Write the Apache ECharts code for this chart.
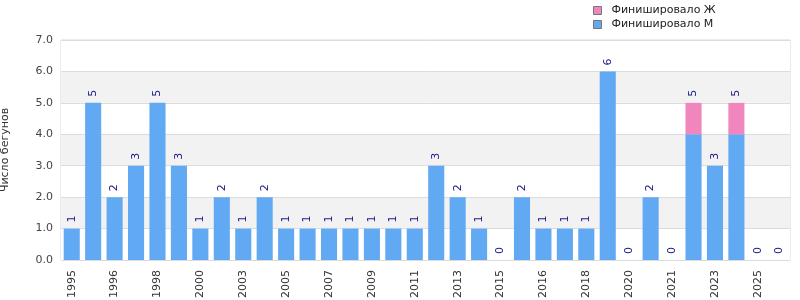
<!DOCTYPE html>
<html><head><meta charset="utf-8">
<script src="https://cdn.jsdelivr.net/npm/echarts@6/dist/echarts.min.js"></script>
<style>html,body{margin:0;padding:0;background:#fff}#c{width:800px;height:300px}</style>
</head><body><div id="c"></div>
<script>
const categories = ["1995","1995 ","1996","1997","1998","1999","2000","2002","2003","2004","2005","2006","2007","2008","2009","2010","2011","2012","2013","2014","2015","2015 ","2016","2017","2018","2019","2020","2020 ","2021","2022","2023","2024","2025","2025 "];
const maleValues   = [1,5,2,3,5,3,1,2,1,2,1,1,1,1,1,1,1,3,2,1,0,2,1,1,1,6,0,2,0,4,3,4,0,0];
const femaleValues = [0,0,0,0,0,0,0,0,0,0,0,0,0,0,0,0,0,0,0,0,0,0,0,0,0,0,0,0,0,1,0,1,0,0];
const yTicks = [0,1,2,3,4,5,6,7];
const totals = maleValues.map((v,i)=>v+femaleValues[i]);

const chart = echarts.init(document.getElementById('c'));
const font = 'DejaVu Sans';
chart.setOption({
  animation:false,
  textStyle:{fontFamily:font},
  legend:{
    data:['Финишировало Ж','Финишировало М'],
    orient:'vertical', left:588, top:0, itemWidth:8, itemHeight:8, itemGap:3,
    textStyle:{fontFamily:font,fontSize:11,color:'#222',padding:[0,0,0,5]},
    icon:'rect', itemStyle:{borderColor:'#777',borderWidth:1}
  },
  grid:{left:61,right:10,top:40,bottom:40,outerBoundsMode:'none',containLabel:false,show:true,borderColor:'#d8d8d8',borderWidth:1},
  xAxis:{
    type:'category', data:categories,
    axisLine:{show:false}, axisTick:{show:false},
    axisLabel:{rotate:90, interval:1, fontFamily:font, fontSize:11, color:'#333', margin:10}
  },
  yAxis:{
    type:'value', min:yTicks[0], max:yTicks[yTicks.length-1], interval:1,
    name:'Число бегунов', nameLocation:'middle', nameGap:50, nameRotate:90,
    nameTextStyle:{fontFamily:font,fontSize:11,color:'#333'},
    axisLine:{show:false}, axisTick:{show:false},
    axisLabel:{formatter:v=>v.toFixed(1), fontFamily:font, fontSize:11, color:'#444', margin:8},
    splitLine:{show:true,lineStyle:{color:'#dcdcdc'}},
    splitArea:{show:true,areaStyle:{color:['#ffffff','#f2f2f2']}}
  },
  series:[
    {name:'Финишировало М', type:'bar', stack:'s', data:maleValues, barCategoryGap:'25%',
     itemStyle:{color:'#62a9f3'}, emphasis:{disabled:true}},
    {name:'Финишировало Ж', type:'bar', stack:'s', data:femaleValues,
     itemStyle:{color:'#f185bd'}, emphasis:{disabled:true}},
    {name:'total', type:'bar', stack:'s', data:maleValues.map(()=>0),
     itemStyle:{color:'transparent'},
     label:{show:true, position:'top', rotate:90, align:'left', verticalAlign:'middle', distance:6,
       formatter:p=>String(totals[p.dataIndex]), fontFamily:font, fontSize:11, color:'#1a1a8c'}}
  ]
});
</script></body></html>
